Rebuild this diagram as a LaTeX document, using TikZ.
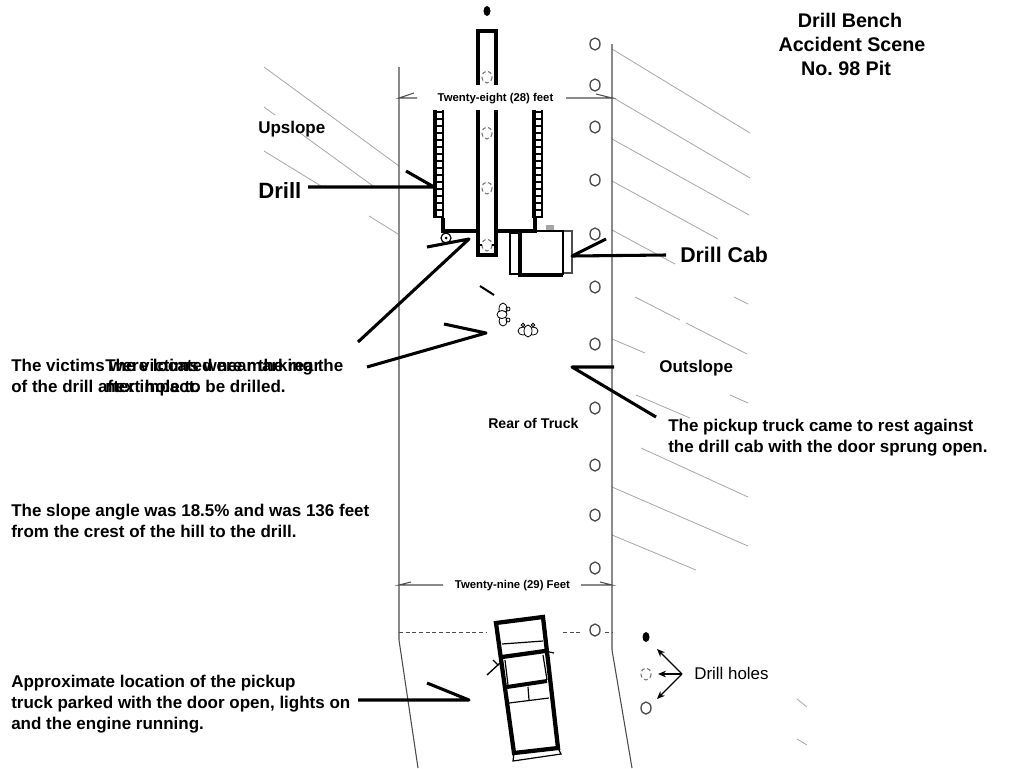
\documentclass[tikz,border=0pt]{standalone}
\usepackage{fontspec}
\setmainfont{Liberation Sans}
\usetikzlibrary{arrows.meta}
\tikzset{
    leader/.style={line width=2.3pt,line join=round},
    drillbar/.style={line width=3pt,line join=miter},
    rung/.style={line width=0.9pt},
    edge line/.style={line width=0.8pt,black!70},
    hatch/.style={line width=0.6pt,black!35},
    textbit/.style={inner sep=0pt,font=\bfseries\fontsize{12.75}{15.75}\selectfont,align=left},
    hole/.style={line width=1pt,black!70},
    deadhole/.style={line width=0.8pt,black!55,densely dashed}
}
\begin{document}
\begin{tikzpicture}[x=0.75pt,y=-0.75pt,>={Stealth[length=6pt,width=5pt]}]
    \useasboundingbox (0,0) rectangle (1024,768);
    % slope hatching
    \foreach \xa/\ya/\xb/\yb in {264/67/399/166,264/107/275/115,300/133/373/186,264/151/321/186,369/216/398/234,
        612/49/750/133,612/97/750/178,612/139/749/215,612/181/718/239,612/230/675/264,
        635/297/680/320,686/323/747/354,734/297/748/304,612/339/645/353,636/395/690/418,730/395/748/403,
        641/448/748/497,612/487/748/546,612/535/696/570,797/699/807/707,797/739/807/745}
        {
            \draw[hatch] (\xa,\ya)--(\xb,\yb);
        }
    % bench edges
    \draw[edge line] (399,67)--(399,640)--(418,768);
    \draw[edge line] (612,44)--(612,650)--(632,768);
    \draw[line width=0.5pt,black!70,densely dashed] (399,632)--(487,632);
    \draw[line width=0.5pt,black!70,densely dashed] (563,632)--(582,632);
    \draw[line width=0.5pt,black!70,densely dashed] (605,632)--(612,632);
    % widths
    \node[textbit,font=\bfseries\fontsize{8.5}{10}\selectfont] (topwidth) at (495.5,98.5) {Twenty-eight (28) feet};
    \node[textbit,font=\bfseries\fontsize{8.5}{10}\selectfont] (botwidth) at (512.5,585.5) {Twenty-nine (29) Feet};
    \draw[edge line] (417,98)--(399,98)--(414,93);
    \draw[edge line] (566,98)--(612,98)--(596,94);
    \draw[edge line] (443,585)--(399,585)--(411,582);
    \draw[edge line] (581,585)--(612,585)--(600,582);
    % holes
    \foreach \y in {44,85,127,180,234,287,344,408,465,515,568,630}
        {
            \draw[hole] (595,\y) ellipse [x radius=5,y radius=6];
        }
    \foreach \y in {77,133,188,245}
        {
            \draw[deadhole] (487,\y) ellipse [x radius=5,y radius=6];
        }
    \fill (487,11) ellipse [x radius=3.5,y radius=5];
    \fill (646,637) ellipse [x radius=3.5,y radius=5];
    \draw[deadhole] (646,674) ellipse [x radius=5,y radius=6];
    \draw[hole] (646,708) ellipse [x radius=5,y radius=6];
    % drill
    \draw[drillbar] (478,85)--(478,31)--(496,31)--(496,85);
    \draw[drillbar] (478,110)--(478,255)--(496,255)--(496,110);
    \draw[rung] (478,245)--(482,245) (492,245)--(496,245);
    \foreach \x in {435,534}
        {
            \draw[drillbar] (\x,110)--(\x,218);
            \draw[line width=2pt] (\x+8,110)--(\x+8,218);
            \foreach \y in {112,119,...,217}
                {
                    \draw[rung] (\x,\y)--(\x+8,\y);
                }
        }
    \draw[drillbar] (443,218)--(443,231)--(478,231);
    \draw[drillbar] (496,231)--(535,231)--(535,218);
    \draw[rung] (446,238) circle [radius=5];
    \fill (446,238) circle [radius=1.5];
    % cab
    \fill[black!35] (546,225) rectangle (554,231);
    \draw[black!70,line width=0.8pt] (563,231) rectangle (572,273);
    \draw[line width=2.2pt] (520,233)--(510,233)--(510,274)--(520,274);
    \draw[rung] (520,231)--(563,231)--(563,275);
    \draw[drillbar] (520,231)--(520,275)--(563,275);
    % victims
    \draw[line width=1.5pt] (480,286)--(494,295);
    \draw[line width=0.6pt] (503,309) ellipse [x radius=4,y radius=6];
    \draw[line width=0.6pt] (503,321) ellipse [x radius=4,y radius=5];
    \draw[line width=0.6pt,fill=white] (502,314.5) ellipse [x radius=5,y radius=4];
    \draw[line width=0.6pt] (508,309) circle [radius=2];
    \draw[line width=0.6pt] (508,320) circle [radius=2];
    \draw[line width=0.6pt] (523,331) ellipse [x radius=5,y radius=4];
    \draw[line width=0.6pt] (533,331) ellipse [x radius=5,y radius=4];
    \draw[line width=0.6pt,fill=white] (528,331) ellipse [x radius=4,y radius=6];
    \draw[line width=0.6pt] (523,325) circle [radius=1.8];
    \draw[line width=0.6pt] (533,325) circle [radius=1.8];
    % pickup
    \draw[line width=3.2pt,line join=miter] (496,623)--(543,617)--(558,748)--(514,753)--cycle;
    \draw[rung] (514,753)--(513,761)--(561,754)--(558,748);
    \draw[rung] (502,644)--(543,641);
    \draw[line width=3.2pt] (502,657)--(545,651);
    \draw[rung] (545,651)--(554,653);
    \draw[line width=3pt] (507,687)--(547,681);
    \draw[rung] (505,660)--(508,685);
    \draw[rung] (543,655)--(547,680);
    \draw[rung] (509,703)--(549,698);
    \draw[rung] (528,687)--(529,700);
    \draw[line width=1pt] (487,675)--(500,663);
    \draw[line width=1pt] (493,660)--(498,665);
    % leaders
    \node[textbit,anchor=west,font=\bfseries\fontsize{16.6}{20}\selectfont] (drill) at (258,190) {Drill};
    \node[textbit,anchor=west,font=\bfseries\fontsize{16}{20}\selectfont] (drillcab) at (680,255) {Drill Cab};
    \coordinate (drilltip) at (434,187);
    \coordinate (cabtip) at (572,256);
    \draw[leader] (308,187)--(drilltip)--(406,171);
    \draw[leader] ([xshift=-10.5pt]drillcab.west)--(cabtip)--(606,239);
    \coordinate (victimtipa) at (469,239);
    \coordinate (victimtipb) at (486,333);
    \coordinate (pickuptip) at (572,367);
    \coordinate (trucktip) at (469,700);
    \draw[leader] (358,342)--(victimtipa)--(427,247);
    \draw[leader] (367,367)--(victimtipb)--(444,324);
    \draw[leader] (656,417)--(pickuptip)--(614,367);
    \draw[leader] (358,700)--(trucktip)--(427,683);
    % legend
    \node[inner sep=0pt,anchor=west,font=\fontsize{12.7}{15}\selectfont] (holes) at (694,673) {Drill holes};
    \coordinate (holefork) at (682,674);
    \draw[->,line width=1pt] (holefork)--(657,649);
    \draw[->,line width=1pt] (holefork)--(658,674);
    \draw[->,line width=1pt] (holefork)--(657,699);
    % text
    \node[textbit,font=\bfseries\fontsize{14.8}{18}\selectfont] (titlea) at (850,20) {Drill Bench};
    \node[textbit,font=\bfseries\fontsize{14.8}{18}\selectfont] (titleb) at (852,44) {Accident Scene};
    \node[textbit,font=\bfseries\fontsize{14.8}{18}\selectfont] (titlec) at (846,68) {No.\ 98 Pit};
    \node[textbit,anchor=west] (upslope) at (258,129) {Upslope};
    \node[textbit,anchor=west] (outslope) at (659,368) {Outslope};
    \node[textbit,anchor=west,font=\bfseries\fontsize{10.6}{13}\selectfont] (rear) at (488,423.5) {Rear of Truck};
    \node[textbit,anchor=west] (victimsa) at (11,378) {The victims were located near the rear\\of the drill after impact.};
    \node[textbit,anchor=west] (victimsb) at (105,376) {The victims were marking the\\next hole to be drilled.};
    \node[textbit,anchor=west] (pickupnote) at (668,438) {The pickup truck came to rest against\\the drill cab with the door sprung open.};
    \node[textbit,anchor=west] (slopenote) at (11,520.5) {The slope angle was 18.5\% and was 136 feet\\from the crest of the hill to the drill.};
    \node[textbit,anchor=west] (trucknote) at (11,704) {Approximate location of the pickup\\truck parked with the door open, lights on\\and the engine running.};
\end{tikzpicture}
\end{document}
